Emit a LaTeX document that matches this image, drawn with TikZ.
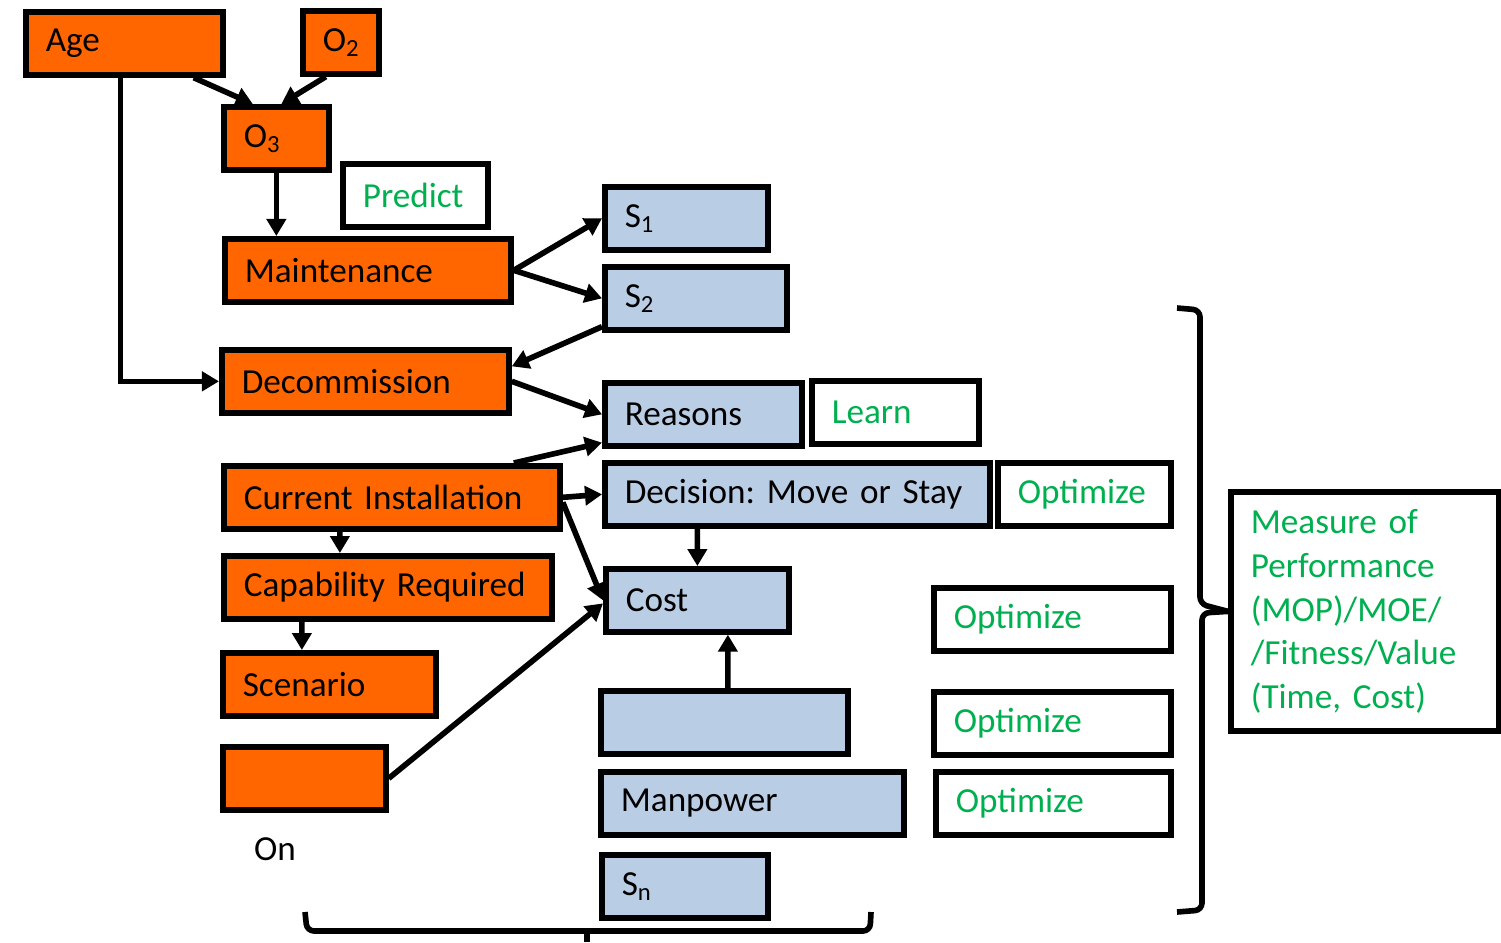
\documentclass[tikz,border=0pt]{standalone}
\usepackage{fontspec}
\setmainfont{Carlito}[WordSpace=0.75]
\usepackage{tikz}
\usetikzlibrary{arrows.meta}
\definecolor{boxorange}{HTML}{FF6600}
\definecolor{boxblue}{HTML}{B9CDE5}
\definecolor{txtgreen}{HTML}{00B050}
\tikzset{blk/.style={draw, line width=1.6pt, anchor=north west, inner xsep=0.2cm,
    align=left, minimum height=0.63cm, font=\fontsize{10}{12.4}\selectfont\frenchspacing}}
\tikzset{obox/.style={blk, fill=boxorange}}
\tikzset{bbox/.style={blk, fill=boxblue}}
\tikzset{gbox/.style={blk, fill=white, text=txtgreen}}
\tikzset{arr/.style={line width=1.6pt, -{Triangle[length=0.17cm,width=0.19cm]}}}
\tikzset{brc/.style={line width=1.6pt, rounded corners=2pt}}

\begin{document}
\begin{tikzpicture}[x=0.01cm, y=-0.01cm]
\useasboundingbox (0,0) rectangle (1501,942);

% left column
\node[obox, text width=1.57cm] (age) at (23,9) {Age};
\node[obox, text width=0.36cm] (otwo) at (300,8) {O\textsubscript{2}};
\node[obox, text width=0.65cm] (othree) at (221,104) {O\textsubscript{3}};
\node[gbox, text width=1.05cm] (predict) at (340,161) {Predict};
\node[obox, text width=2.46cm] (maint) at (222,236) {Maintenance};
\node[obox, text width=2.47cm] (decom) at (219,347) {Decommission};
\node[obox, text width=2.96cm] (curinst) at (221,463) {Current Installation};
\node[obox, text width=2.88cm] (capab) at (221,553) {Capability Required};
\node[obox, text width=1.73cm] (scen) at (220,650) {Scenario};
\node[obox, text width=1.23cm] (blanko) at (220,744) {};
\node[font=\fontsize{10}{12.4}\selectfont] (on) at (275,849) {On};

% middle column
\node[bbox, text width=1.23cm] (sone) at (602,184) {S\textsubscript{1}};
\node[bbox, text width=1.42cm] (stwo) at (602,264) {S\textsubscript{2}};
\node[bbox, text width=1.57cm] (reasons) at (602,380) {Reasons};
\node[gbox, text width=1.27cm] (learn) at (809,378) {Learn};
\node[bbox, text width=3.45cm] (decision) at (602,460) {Decision: Move or Stay};
\node[bbox, text width=1.43cm] (cost) at (603,566) {Cost};
\node[bbox, text width=2.07cm] (blankb) at (598,688) {};
\node[bbox, text width=2.63cm] (manp) at (598,769) {Manpower};
\node[bbox, text width=1.26cm] (sn) at (599,852) {S\textsubscript{n}};

% right column
\node[gbox, text width=1.33cm] (optone) at (995,460) {Optimize};
\node[gbox, text width=1.97cm] (opttwo) at (931,585) {Optimize};
\node[gbox, text width=1.97cm] (optthree) at (931,689) {Optimize};
\node[gbox, text width=1.95cm] (optfour) at (933,769) {Optimize};
\node[gbox, text width=2.28cm, minimum height=2.39cm] (mop) at (1228,489)
  {Measure of\\Performance\\(MOP)/MOE/\\/Fitness/Value\\(Time, Cost)};

% arrows
\draw[arr] ([xshift=-0.32cm]age.south east) -- ([xshift=-0.235cm]othree.north);
\draw[arr] ([xshift=-0.15cm]otwo.south) -- ([xshift=0.05cm]othree.north);
\draw[arr] (othree.south) -- (othree.south |- maint.north);
\draw[arr] ([xshift=-0.04cm]age.south) |- (decom.west);
\draw[arr] (maint.east) -- (sone.west);
\draw[arr] (maint.east) -- (stwo.west);
\draw[arr] ([yshift=0.06cm]stwo.south west) -- ([yshift=0.15cm]decom.east);
\draw[arr] (decom.east) -- (reasons.west);
\draw[arr] ([xshift=-0.49cm]curinst.north east) -- ([yshift=0.06cm]reasons.south west);
\draw[arr] (curinst.east) -- (decision.west);
\draw[arr] ([yshift=-0.05cm]curinst.east) -- (cost.west);
\draw[arr] ([xshift=-0.52cm]curinst.south) -- ([xshift=-0.48cm]capab.north);
\draw[arr] ([xshift=-0.86cm]capab.south) -- ([xshift=-0.275cm]scen.north);
\draw[arr] ([xshift=-1cm]decision.south) -- (cost.north);
\draw[arr] ([xshift=0.035cm]blankb.north) -- ([xshift=0.305cm]cost.south);
\draw[arr] (blanko.east) -- ([yshift=-0.03cm]cost.west);

% braces
\draw[brc] (1177,308) -- (1200,310) -- (1200,604) -- (mop.west);
\draw[brc] (mop.west) -- (1202,613) -- (1202,910) -- (1177,912);
\draw[brc] (305,912) -- (307,931) -- (870,931) -- (871,912);
\draw[line width=1.6pt] (587,931) -- (587,942);
\end{tikzpicture}
\end{document}
